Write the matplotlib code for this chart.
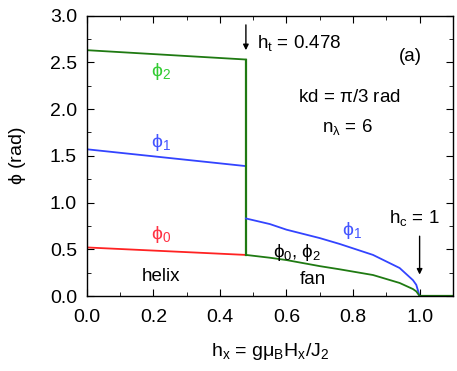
import matplotlib
matplotlib.use('Agg')
import matplotlib.pyplot as plt
import numpy as np
from matplotlib.ticker import MultipleLocator, FormatStrFormatter

plt.rcParams['font.family'] = ['Liberation Sans', 'DejaVu Sans']
plt.rcParams['mathtext.fontset'] = 'custom'
plt.rcParams['mathtext.rm'] = 'Liberation Sans'
plt.rcParams['mathtext.it'] = 'Liberation Sans'
plt.rcParams['mathtext.bf'] = 'Liberation Sans:bold'
plt.rcParams['font.size'] = 13.5

# helix phase (0 .. h_t)
h_t = 0.478
helix_x = [0.0, h_t]
phi0_helix = [0.52, 0.44]
phi1_helix = [1.57, 1.39]
phi2_helix = [2.63, 2.53]

# fan phase (h_t .. h_c)
fan_x = [h_t, 0.55, 0.6, 0.7, 0.76, 0.86, 0.94, 0.98, 0.99, 1.0]
phi1_fan = [0.83, 0.77, 0.71, 0.62, 0.557, 0.44, 0.30, 0.17, 0.12, 0.0]
phi02_fan = [0.44, 0.41, 0.385, 0.32, 0.286, 0.225, 0.14, 0.075, 0.05, 0.0]

# above h_c
ferro_x = [1.0, 1.1]
ferro_phi = [0.0, 0.0]

GREEN = '#1f7a12'
BLUE = '#3344ff'
RED = '#ff2222'

fig = plt.figure(figsize=(4.57, 3.71), dpi=100)
ax = fig.add_axes([0.190, 0.202, 0.801, 0.756])

ax.plot(helix_x, phi0_helix, color=RED, lw=1.3)
ax.plot(helix_x, phi1_helix, color=BLUE, lw=1.3)
ax.plot(helix_x, phi2_helix, color=GREEN, lw=1.3)
ax.plot([h_t, h_t], [phi2_helix[-1], phi02_fan[0]], color=GREEN, lw=1.6)
ax.plot(fan_x, phi1_fan, color=BLUE, lw=1.3)
ax.plot(fan_x, phi02_fan, color=GREEN, lw=1.3)
ax.plot(ferro_x, ferro_phi, color=GREEN, lw=1.6)

ax.set_xlim(0, 1.1)
ax.set_ylim(0, 3.0)
ax.xaxis.set_major_locator(MultipleLocator(0.2))
ax.xaxis.set_minor_locator(MultipleLocator(0.1))
ax.yaxis.set_major_locator(MultipleLocator(0.5))
ax.yaxis.set_minor_locator(MultipleLocator(0.25))
ax.xaxis.set_major_formatter(FormatStrFormatter('%.1f'))
ax.yaxis.set_major_formatter(FormatStrFormatter('%.1f'))
ax.tick_params(which='both', direction='in', top=True, right=True, labelsize=14)
ax.tick_params(which='major', length=5)
ax.tick_params(which='minor', length=3)
ax.tick_params(axis='x', which='major', pad=9)
ax.tick_params(axis='y', which='major', pad=7)
for s in ax.spines.values():
    s.set_linewidth(1.0)

ax.set_xlabel(r'$\mathrm{h_x}$ = g$\mathrm{\mu_B H_x/J_2}$', fontsize=14, labelpad=11)
ax.set_ylabel(r'$\mathrm{\phi}$ (rad)', fontsize=14, labelpad=16)

ax.text(0.223, 2.40, r'$\mathrm{\phi_2}$', color='#33cc33', fontsize=14, ha='center', va='center')
ax.text(0.223, 1.64, r'$\mathrm{\phi_1}$', color='#4455ff', fontsize=14, ha='center', va='center')
ax.text(0.223, 0.66, r'$\mathrm{\phi_0}$', color='#ff3344', fontsize=14, ha='center', va='center')
ax.text(0.798, 0.70, r'$\mathrm{\phi_1}$', color='#4455ff', fontsize=14, ha='center', va='center')
ax.text(0.633, 0.47, r'$\mathrm{\phi_0}$, $\mathrm{\phi_2}$', ha='center', va='center')
ax.text(0.223, 0.21, 'helix', ha='center', va='center')
ax.text(0.68, 0.18, 'fan', ha='center', va='center')
ax.text(0.51, 2.71, r'$\mathrm{h_t}$ = 0.478', ha='left', va='center')
ax.text(0.973, 2.56, '(a)', ha='center', va='center')
ax.text(0.789, 2.12, r'kd = $\mathrm{\pi}$/3 rad', ha='center', va='center')
ax.text(0.783, 1.81, r'$\mathrm{n_\lambda}$ = 6', ha='center', va='center')
ax.text(0.985, 0.84, r'$\mathrm{h_c}$ = 1', ha='center', va='center')

ax.annotate('', xy=(h_t, 2.60), xytext=(h_t, 2.93),
            arrowprops=dict(arrowstyle='-|>', color='black', lw=1.0, mutation_scale=8))
ax.annotate('', xy=(1.0, 0.20), xytext=(1.0, 0.67),
            arrowprops=dict(arrowstyle='-|>', color='black', lw=1.0, mutation_scale=8))

fig.savefig('out.png', dpi=100)
